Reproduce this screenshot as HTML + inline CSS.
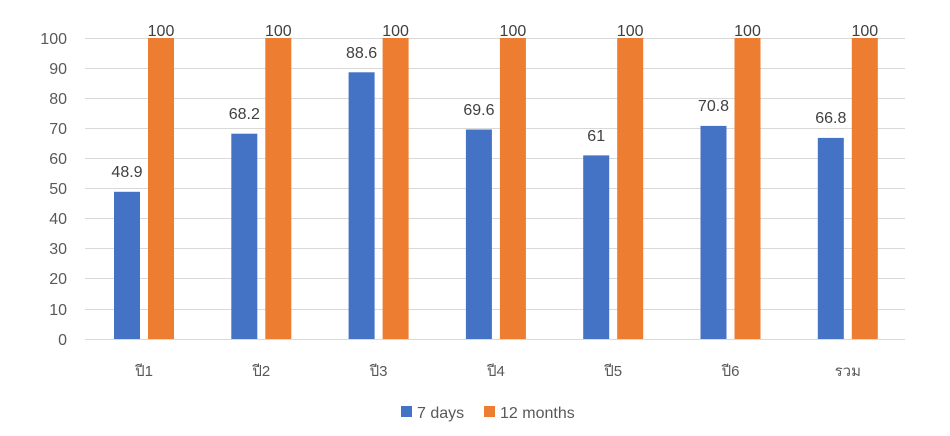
<!DOCTYPE html>
<html><head><meta charset="utf-8"><style>
html,body{margin:0;padding:0;background:#fff;}
svg{display:block;font-family:"Liberation Sans","DejaVu Sans",sans-serif;}
</style></head><body>
<svg width="950" height="436" viewBox="0 0 950 436" xmlns="http://www.w3.org/2000/svg">
<g stroke="#d9d9d9" stroke-width="1">
<line x1="85" x2="905" y1="38.5" y2="38.5"/>
<line x1="85" x2="905" y1="68.5" y2="68.5"/>
<line x1="85" x2="905" y1="98.5" y2="98.5"/>
<line x1="85" x2="905" y1="128.5" y2="128.5"/>
<line x1="85" x2="905" y1="158.5" y2="158.5"/>
<line x1="85" x2="905" y1="188.5" y2="188.5"/>
<line x1="85" x2="905" y1="218.5" y2="218.5"/>
<line x1="85" x2="905" y1="248.5" y2="248.5"/>
<line x1="85" x2="905" y1="278.5" y2="278.5"/>
<line x1="85" x2="905" y1="309.5" y2="309.5"/>
<line x1="85" x2="905" y1="339.5" y2="339.5"/>
</g>
<g fill="#595959" font-size="16" text-anchor="end">
<text x="67" y="44">100</text><text x="67" y="74">90</text><text x="67" y="104">80</text>
<text x="67" y="134">70</text><text x="67" y="164">60</text><text x="67" y="194">50</text>
<text x="67" y="224">40</text><text x="67" y="254">30</text><text x="67" y="284">20</text>
<text x="67" y="315">10</text><text x="67" y="345">0</text>
</g>
<g fill="#4472c4">
<rect x="114" y="191.8" width="26" height="147.2"/>
<rect x="231.3" y="133.7" width="26" height="205.3"/>
<rect x="348.6" y="72.3" width="26" height="266.7"/>
<rect x="465.9" y="129.5" width="26" height="209.5"/>
<rect x="583.2" y="155.4" width="26" height="183.6"/>
<rect x="700.5" y="125.9" width="26" height="213.1"/>
<rect x="817.8" y="137.9" width="26" height="201.1"/>
</g>
<g fill="#ed7d31">
<rect x="148" y="38" width="26" height="301"/>
<rect x="265.3" y="38" width="26" height="301"/>
<rect x="382.6" y="38" width="26" height="301"/>
<rect x="499.9" y="38" width="26" height="301"/>
<rect x="617.2" y="38" width="26" height="301"/>
<rect x="734.5" y="38" width="26" height="301"/>
<rect x="851.8" y="38" width="26" height="301"/>
</g>
<g fill="#404040" font-size="16" text-anchor="middle">
<text x="127" y="177">48.9</text>
<text x="244.3" y="119">68.2</text>
<text x="361.6" y="58">88.6</text>
<text x="478.9" y="115">69.6</text>
<text x="596.2" y="141">61</text>
<text x="713.5" y="111">70.8</text>
<text x="830.8" y="123">66.8</text>
<text x="161" y="36">100</text><text x="278.3" y="36">100</text><text x="395.6" y="36">100</text>
<text x="512.9" y="36">100</text><text x="630.2" y="36">100</text><text x="747.5" y="36">100</text>
<text x="864.8" y="36">100</text>
</g>
<g fill="#595959" font-size="15" text-anchor="middle">
<text x="144" y="376">ปี1</text><text x="261.3" y="376">ปี2</text><text x="378.6" y="376">ปี3</text>
<text x="495.9" y="376">ปี4</text><text x="613.2" y="376">ปี5</text><text x="730.5" y="376">ปี6</text>
<text x="847.8" y="376">รวม</text>
</g>
<rect x="401" y="406" width="11" height="11" fill="#4472c4"/>
<text x="417" y="418" fill="#595959" font-size="16">7 days</text>
<rect x="484" y="406" width="11" height="11" fill="#ed7d31"/>
<text x="500" y="418" fill="#595959" font-size="16">12 months</text>
</svg>
</body></html>
